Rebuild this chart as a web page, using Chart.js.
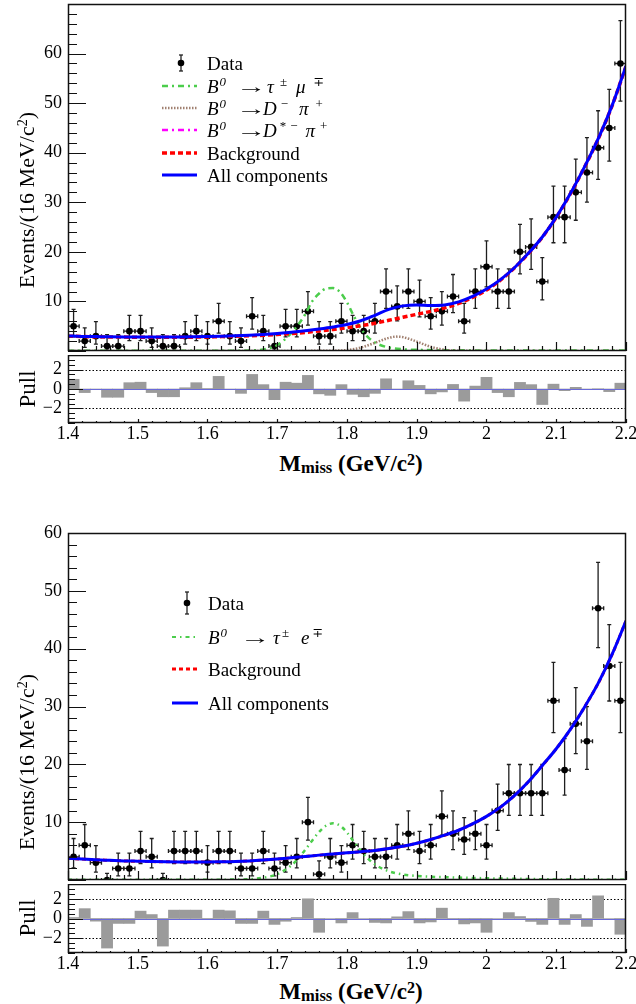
<!DOCTYPE html>
<html>
<head>
<meta charset="utf-8">
<script src="https://cdn.jsdelivr.net/npm/chart.js@4.4.1/dist/chart.umd.min.js"></script>
<style>
  html, body { margin:0; padding:0; background:#fff; }
  body { width:636px; height:1004px; position:relative; overflow:hidden;
         font-family:"Liberation Serif","DejaVu Serif",serif; color:#000; }
  canvas { position:absolute; left:0; }
  .t { position:absolute; white-space:nowrap; line-height:1; }
  .rot { transform:translate(-50%,-50%) rotate(-90deg); }
  .ctr { transform:translate(-50%,-50%); }
  .lg { position:absolute; left:207px; font-size:19px; white-space:nowrap; line-height:1; transform:translateY(-50%); }
  .lg i { font-style:italic; }
  .s { display:inline-block; }
  .ar { display:inline-block; transform:scaleX(1.6); transform-origin:left center; margin-right:7px; }
  .sp { display:inline-block; font-size:0.68em; position:relative; top:-0.55em; }
  svg.sym { position:absolute; overflow:visible; }
</style>
</head>
<body>
<canvas id="c1" width="636" height="355" style="top:0px;width:636px;height:355px"></canvas>
<canvas id="c2" width="636" height="90" style="top:355px;width:636px;height:90px"></canvas>
<canvas id="c3" width="636" height="379" style="top:505px;width:636px;height:379px"></canvas>
<canvas id="c4" width="636" height="92" style="top:884px;width:636px;height:92px"></canvas>

<!-- axis titles -->
<div class="t rot" style="left:27px;top:200px;font-size:22px;">Events/(16 MeV/c<span style="font-size:0.65em;position:relative;top:-0.5em">2</span>)</div>
<div class="t rot" style="left:27px;top:389px;font-size:23px;">Pull</div>
<div class="t ctr" style="left:351px;top:463px;font-size:23px;font-weight:bold;">M<span style="font-size:0.72em;position:relative;top:0.15em">miss</span> (GeV/c<span style="font-size:0.7em;position:relative;top:-0.4em">2</span>)</div>

<div class="t rot" style="left:27px;top:762px;font-size:22px;">Events/(16 MeV/c<span style="font-size:0.65em;position:relative;top:-0.5em">2</span>)</div>
<div class="t rot" style="left:27px;top:918px;font-size:23px;">Pull</div>
<div class="t ctr" style="left:351px;top:991px;font-size:23px;font-weight:bold;">M<span style="font-size:0.72em;position:relative;top:0.15em">miss</span> (GeV/c<span style="font-size:0.7em;position:relative;top:-0.4em">2</span>)</div>

<!-- top legend -->
<svg class="sym" style="left:0;top:0" width="636" height="200">
  <line x1="181" y1="55" x2="181" y2="71" stroke="#222" stroke-width="1.3"/>
  <line x1="179" y1="55" x2="183" y2="55" stroke="#222" stroke-width="1.3"/>
  <line x1="179" y1="71" x2="183" y2="71" stroke="#222" stroke-width="1.3"/>
  <circle cx="181" cy="63" r="3.3" fill="#000"/>
  <line x1="162" y1="86" x2="197" y2="86" stroke="#4ccd4c" stroke-width="2.5" stroke-dasharray="6 4 2 4"/>
  <line x1="162" y1="108" x2="197" y2="108" stroke="#a08070" stroke-width="2.5" stroke-dasharray="1.5 1.5"/>
  <line x1="162" y1="130" x2="197" y2="130" stroke="#ff00ff" stroke-width="2.5" stroke-dasharray="6 4 2 4"/>
  <line x1="162" y1="153" x2="197" y2="153" stroke="#ff0000" stroke-width="3.5" stroke-dasharray="5 3"/>
  <line x1="162" y1="175" x2="197" y2="175" stroke="#0000ff" stroke-width="3"/>
</svg>
<div class="lg" style="top:63px">Data</div>
<div class="lg" style="top:86px"><i class="s">B</i><i class="sp" style="margin-left:1px">0</i><span class="ar" style="margin-left:10px">→</span><i class="s" style="margin-left:5px">τ</i><span class="sp" style="margin-left:6px">±</span><i class="s" style="margin-left:9px">μ</i><span class="sp" style="margin-left:8px">∓</span></div>
<div class="lg" style="top:108px"><i class="s">B</i><i class="sp" style="margin-left:1px">0</i><span class="ar" style="margin-left:10px">→</span><i class="s" style="margin-left:1px">D</i><span class="sp" style="margin-left:4px">−</span><i class="s" style="margin-left:11px">π</i><span class="sp" style="margin-left:7px">+</span></div>
<div class="lg" style="top:130px"><i class="s">B</i><i class="sp" style="margin-left:1px">0</i><span class="ar" style="margin-left:10px">→</span><i class="s" style="margin-left:1px">D</i><span class="sp" style="margin-left:3px">*</span><span class="sp" style="margin-left:4px">−</span><i class="s" style="margin-left:8px">π</i><span class="sp" style="margin-left:5px">+</span></div>
<div class="lg" style="top:153px">Background</div>
<div class="lg" style="top:175px">All components</div>

<!-- bottom legend -->
<svg class="sym" style="left:0;top:0" width="636" height="720">
  <line x1="187" y1="592" x2="187" y2="614" stroke="#222" stroke-width="1.3"/>
  <line x1="185" y1="592" x2="189" y2="592" stroke="#222" stroke-width="1.3"/>
  <line x1="185" y1="614" x2="189" y2="614" stroke="#222" stroke-width="1.3"/>
  <circle cx="187" cy="603" r="3.3" fill="#000"/>
  <line x1="172" y1="637" x2="198" y2="637" stroke="#4ccd4c" stroke-width="2" stroke-dasharray="4 4 1.5 4"/>
  <line x1="172" y1="669" x2="198" y2="669" stroke="#ff0000" stroke-width="3" stroke-dasharray="4 3"/>
  <line x1="172" y1="703" x2="198" y2="703" stroke="#0000ff" stroke-width="3"/>
</svg>
<div class="lg" style="top:603px;left:208px">Data</div>
<div class="lg" style="top:637px;left:208px"><i class="s">B</i><i class="sp" style="margin-left:1px">0</i><span class="ar" style="margin-left:13px">→</span><i class="s" style="margin-left:7px">τ</i><span class="sp" style="margin-left:2px">±</span><i class="s" style="margin-left:12px">e</i><span class="sp" style="margin-left:3px">∓</span></div>
<div class="lg" style="top:669px;left:208px">Background</div>
<div class="lg" style="top:703px;left:208px">All components</div>

<script>
// ---------------- DATA ----------------
const binCenters = [1.408,1.424,1.440,1.456,1.472,1.488,1.504,1.520,1.536,1.552,
  1.568,1.584,1.600,1.616,1.632,1.648,1.664,1.680,1.696,1.712,
  1.728,1.744,1.760,1.776,1.792,1.808,1.824,1.840,1.856,1.872,
  1.888,1.904,1.920,1.936,1.952,1.968,1.984,2.000,2.016,2.032,
  2.048,2.064,2.080,2.096,2.112,2.128,2.144,2.160,2.176,2.192];
const binHalfWidth = 0.008;

// B0 -> tau mu channel (top)
const muCounts = [5,2,3,1,1,4,4,2,1,1, 3,4,3,6,3,2,7,4,1,5, 5,8,3,3,6,4,4,6,12,9,
  12,10,7,8,11,6,12,17,12,12, 20,21,14,27,27,32,36,41,45,58];
const muPulls = [1.0,-0.37,0.0,-0.85,-0.85,0.65,0.7,-0.37,-0.8,-0.8,
  0.13,0.65,0.05,1.3,-0.05,-0.45,1.5,0.45,-1.1,0.7,
  0.6,1.4,-0.5,-0.65,0.45,-0.55,-0.8,-0.45,1.05,0.0,
  0.85,0.37,-0.5,-0.3,0.47,-1.25,0.3,1.2,-0.37,-0.8,
  0.68,0.45,-1.6,0.5,-0.17,0.17,-0.05,0.03,-0.27,0.6];

const curveMass = [1.40,1.42,1.44,1.46,1.48,1.50,1.52,1.54,1.56,1.58,
  1.60,1.62,1.64,1.66,1.68,1.70,1.72,1.74,1.76,1.78,
  1.80,1.82,1.84,1.86,1.88,1.90,1.92,1.94,1.96,1.98,
  2.00,2.02,2.04,2.06,2.08,2.10,2.12,2.14,2.16,2.18,2.20];
const muTotal = [3.05,2.95,2.9,2.85,2.82,2.8,2.8,2.8,2.82,2.85,
  2.9,2.97,3.06,3.18,3.35,3.55,3.8,4.1,4.45,4.85,
  5.35,6.1,7.2,8.4,9.1,9.3,9.2,9.3,9.9,11.0,
  12.5,14.4,16.8,19.7,23.0,27.0,31.7,37.0,42.8,49.5,57.5];
const muBackground = [3.0,2.92,2.87,2.83,2.8,2.78,2.77,2.77,2.78,2.8,
  2.84,2.9,2.97,3.06,3.18,3.33,3.5,3.75,4.05,4.35,
  4.7,5.1,5.6,6.2,6.8,7.4,8.0,8.7,9.6,10.8,
  12.3,14.3,16.75,19.65,22.95,26.95,31.65,36.95,42.75,49.45,57.45];
const muSignalMass = [1.40,1.50,1.60,1.64,1.66,1.68,1.70,1.72,1.73,1.74,
  1.75,1.76,1.77,1.78,1.79,1.80,1.81,1.82,1.83,1.84,
  1.86,1.88,1.90,1.95,2.00,2.10,2.20];
const muSignal = [0.05,0.05,0.05,0.06,0.1,0.3,1.2,3.6,5.3,7.4,
  10.0,11.6,12.6,12.7,11.9,9.8,7.0,4.5,2.8,1.7,
  0.7,0.35,0.25,0.15,0.12,0.1,0.08];
const dPiMass = [1.40,1.70,1.76,1.78,1.80,1.82,1.84,1.86,1.87,1.88,1.90,1.92,1.94,1.96,1.98,2.05,2.20];
const dPiCurve = [0.02,0.02,0.03,0.06,0.2,0.7,1.65,2.65,2.9,2.8,1.9,0.85,0.25,0.06,0.03,0.02,0.02];

// B0 -> tau e channel (bottom)
const eCounts = [4,6,3,0,2,2,5,4,0,5, 5,5,3,5,5,2,2,5,2,3, 4,10,1,4,3,6,5,4,4,6,
  8,5,6,11,8,7,8,6,12,15, 15,15,15,31,19,27,24,47,37,31];
const ePulls = [0.1,1.0,-0.27,-3.0,-0.5,-0.5,0.75,0.4,-2.8,0.85,
  0.85,0.85,-0.1,0.85,0.78,-0.5,-0.5,0.75,-0.6,-0.28,
  0.1,2.0,-1.4,0.0,-0.45,0.6,0.0,-0.4,-0.45,0.17,
  0.7,-0.45,-0.35,1.05,-0.1,-0.55,-0.45,-1.4,0.0,0.6,
  0.2,-0.3,-0.6,2.05,-0.6,0.4,-0.8,2.3,0.0,-1.6];
const eTotal = [3.75,3.62,3.5,3.4,3.3,3.25,3.2,3.16,3.13,3.12,
  3.12,3.15,3.2,3.3,3.45,3.63,3.85,4.07,4.3,4.5,
  4.7,4.9,5.12,5.45,5.85,6.35,7.0,7.75,8.6,9.7,
  11.0,12.6,14.6,17.0,19.8,22.7,26.0,29.8,34.0,39.0,44.8];
const eBackground = [3.74,3.61,3.49,3.39,3.29,3.24,3.19,3.15,3.12,3.11,
  3.11,3.14,3.19,3.29,3.44,3.62,3.84,4.06,4.29,4.49,
  4.69,4.89,5.11,5.44,5.84,6.34,6.99,7.74,8.59,9.69,
  10.99,12.59,14.59,16.99,19.79,22.69,25.99,29.79,33.99,38.99,44.79];
const eSignalMass = [1.40,1.50,1.60,1.64,1.66,1.68,1.70,1.72,1.73,1.74,
  1.75,1.76,1.77,1.78,1.79,1.80,1.81,1.82,1.83,1.84,
  1.86,1.88,1.90,1.95,2.00,2.05,2.10,2.20];
const eSignal = [0.05,0.05,0.05,0.08,0.15,0.4,1.0,2.5,3.7,5.2,
  6.8,8.3,9.4,9.8,9.4,8.2,6.6,5.0,3.7,2.7,
  1.5,0.95,0.7,0.45,0.3,0.2,0.1,0.05];

// tick labels
const xTickValues = [1.4,1.5,1.6,1.7,1.8,1.9,2.0,2.1,2.2];
const xTickLabels = ['1.4','1.5','1.6','1.7','1.8','1.9','2','2.1','2.2'];
const yTickValues = [10,20,30,40,50,60];
const yTickLabels = ['10','20','30','40','50','60'];
const pullTickValues = [-2,0,2];
const pullTickLabels = ['\u22122','0','2'];

// ---------------- HELPERS ----------------
const FONT = '"Liberation Serif","DejaVu Serif",serif';
const pts = (xs, ys) => xs.map((x, i) => ({x, y: ys[i]}));
function poissonInterval(n) {   // approximate 68% Poisson interval
  if (n === 0) return [0, 1.15];
  const hi = n + Math.sqrt(n + 0.75) + 1;
  const lo = n * Math.pow(1 - 1 / (9 * n) - 1 / (3 * Math.sqrt(n)), 3);
  return [lo, hi];
}
function noPad(s) { s.paddingTop = 0; s.paddingBottom = 0; s.paddingLeft = 0; s.paddingRight = 0; }

const errorBarPlugin = {
  id: 'errbars',
  beforeDatasetsDraw(chart) {
    const {ctx, chartArea: a} = chart;
    const x = chart.scales.x, y = chart.scales.y;
    ctx.save();
    ctx.beginPath(); ctx.rect(a.left, a.top, a.right - a.left, a.bottom - a.top); ctx.clip();
    chart.data.datasets.forEach(ds => {
      if (!ds.errLo) return;
      ctx.strokeStyle = '#1e1e1e'; ctx.lineWidth = 1.3;
      ds.data.forEach((p, i) => {
        const px = x.getPixelForValue(p.x), py = y.getPixelForValue(p.y);
        const yl = y.getPixelForValue(ds.errLo[i]), yh = y.getPixelForValue(ds.errHi[i]);
        const xl = x.getPixelForValue(p.x - ds.halfBin), xr = x.getPixelForValue(p.x + ds.halfBin);
        ctx.beginPath();
        ctx.moveTo(px, yl); ctx.lineTo(px, yh);
        ctx.moveTo(px - 2, yl); ctx.lineTo(px + 2, yl);
        ctx.moveTo(px - 2, yh); ctx.lineTo(px + 2, yh);
        ctx.moveTo(xl, py); ctx.lineTo(xr, py);
        ctx.moveTo(xl, py - 2); ctx.lineTo(xl, py + 2);
        ctx.moveTo(xr, py - 2); ctx.lineTo(xr, py + 2);
        ctx.stroke();
      });
    });
    ctx.restore();
  }
};

const decorPlugin = {
  id: 'decor',
  beforeDatasetsDraw(chart, args, o) {
    if (!o.pull) return;
    const {ctx, chartArea: a} = chart;
    const y = chart.scales.y;
    ctx.save();
    ctx.strokeStyle = '#000'; ctx.lineWidth = 1; ctx.setLineDash([1.5, 2]);
    [-2, 2].forEach(v => {
      const py = Math.round(y.getPixelForValue(v)) + 0.5;
      ctx.beginPath(); ctx.moveTo(a.left, py); ctx.lineTo(a.right, py); ctx.stroke();
    });
    ctx.restore();
  },
  afterDraw(chart, args, o) {
    const {ctx, chartArea: a} = chart;
    const x = chart.scales.x, y = chart.scales.y;
    ctx.save();
    if (o.pull) {
      ctx.strokeStyle = '#6a6ad8'; ctx.lineWidth = 1;
      const p0 = Math.round(y.getPixelForValue(0)) + 0.5;
      ctx.beginPath(); ctx.moveTo(a.left, p0); ctx.lineTo(a.right, p0); ctx.stroke();
    }
    ctx.strokeStyle = '#111'; ctx.lineWidth = 1.2;
    ctx.beginPath();
    // x ticks (inward from bottom)
    for (let k = 0; k <= 40; k++) {
      const v = 1.4 + k * 0.02;
      const px = Math.round(x.getPixelForValue(v)) + 0.5;
      const len = (k % 5 === 0) ? o.xMaj : o.xMin;
      ctx.moveTo(px, a.bottom); ctx.lineTo(px, a.bottom - len);
    }
    // y ticks (inward from left)
    const steps = Math.round((o.yMax - o.yMin) / o.yMinor);
    for (let k = 0; k <= steps; k++) {
      const v = o.yMin + k * o.yMinor;
      const py = Math.round(y.getPixelForValue(v)) + 0.5;
      const isMaj = Math.abs(v / o.yMajor - Math.round(v / o.yMajor)) < 1e-6 && (!o.pull || Math.abs(v) <= 2.01);
      const len = isMaj ? o.yMajLen : o.yMinLen;
      ctx.moveTo(a.left, py); ctx.lineTo(a.left + len, py);
    }
    ctx.stroke();
    // frame
    ctx.lineWidth = 1.5; ctx.strokeStyle = '#111';
    ctx.strokeRect(a.left + 0.5, a.top + 0.5, a.right - a.left - 1, a.bottom - a.top - 1);
    ctx.restore();
  }
};

function scalesFor(opts) {
  return {
    x: {
      type: 'linear', min: 1.4, max: 2.2, offset: false,
      grid: {display: false, drawTicks: false}, border: {display: false},
      ticks: {
        display: opts.showX, color: '#000', padding: 0, maxRotation: 0, autoSkip: false,
        font: {family: FONT, size: 18},
        callback: (v, i) => xTickLabels[i]
      },
      afterBuildTicks: s => { s.ticks = xTickValues.map(v => ({value: v})); },
      afterFit: s => { s.height = opts.xH; noPad(s); }
    },
    y: {
      type: 'linear', min: opts.yMin, max: opts.yMax,
      grid: {display: false, drawTicks: false}, border: {display: false},
      ticks: {
        color: '#000', padding: 6, font: {family: FONT, size: 18},
        callback: (v, i) => opts.yLabels[i]
      },
      afterBuildTicks: s => { s.ticks = opts.yTicks.map(v => ({value: v})); },
      afterFit: s => { s.width = 68; noPad(s); }
    }
  };
}

function mainChart(id, padTop, yMax, datasets) {
  return new Chart(document.getElementById(id), {
    type: 'line',
    data: {datasets},
    options: {
      responsive: false, animation: false, events: [],
      layout: {padding: {left: 0, right: 10, top: padTop, bottom: 0}},
      plugins: {legend: {display: false}, tooltip: {enabled: false},
        decor: {pull: false, xMaj: 9, xMin: 5, yMin: 0, yMax: yMax, yMinor: 2, yMajor: 10, yMajLen: 18, yMinLen: 9}},
      scales: scalesFor({showX: false, xH: 0, yMin: 0, yMax: yMax, yTicks: yTickValues, yLabels: yTickLabels})
    },
    plugins: [errorBarPlugin, decorPlugin]
  });
}

function pullChart(id, xH, pulls) {
  return new Chart(document.getElementById(id), {
    type: 'bar',
    data: {datasets: [{
      data: pts(binCenters, pulls), backgroundColor: '#9b9b9b', borderWidth: 0,
      barPercentage: 1, categoryPercentage: 1
    }]},
    options: {
      responsive: false, animation: false, events: [],
      layout: {padding: {left: 0, right: 10, top: 0, bottom: 0}},
      plugins: {legend: {display: false}, tooltip: {enabled: false},
        decor: {pull: true, xMaj: 4, xMin: 2, yMin: -3.5, yMax: 3.5, yMinor: 0.5, yMajor: 2, yMajLen: 15, yMinLen: 7}},
      scales: scalesFor({showX: true, xH: xH, yMin: -3.5, yMax: 3.5, yTicks: pullTickValues, yLabels: pullTickLabels})
    },
    plugins: [decorPlugin]
  });
}

function dataSet(counts) {
  const iv = counts.map(poissonInterval);
  return {
    data: pts(binCenters, counts), showLine: false,
    pointRadius: 3.3, pointBackgroundColor: '#000', pointBorderWidth: 0,
    errLo: iv.map(v => v[0]), errHi: iv.map(v => v[1]), halfBin: binHalfWidth,
    order: 9, clip: 0
  };
}
function curve(xs, ys, color, width, dash, order) {
  return {
    data: pts(xs, ys), borderColor: color, borderWidth: width, borderDash: dash,
    pointRadius: 0, fill: false, cubicInterpolationMode: 'monotone', order: order, clip: 0
  };
}

mainChart('c1', 3, 70, [
  dataSet(muCounts),
  curve(muSignalMass, muSignal, '#4ccd4c', 2.5, [6, 4, 2, 4], 5),
  curve(dPiMass, dPiCurve, '#a08070', 2.5, [1.5, 1.5], 4),
  curve(curveMass, muBackground, '#ff0000', 3.5, [5, 3], 2),
  curve(curveMass, muTotal, '#0000ff', 3, [], 0)
]);
pullChart('c2', 22, muPulls);

mainChart('c3', 28, 60, [
  dataSet(eCounts),
  curve(eSignalMass, eSignal, '#4ccd4c', 2.5, [4, 4, 1.5, 4], 5),
  curve(curveMass, eBackground, '#ff0000', 3, [4, 3], 2),
  curve(curveMass, eTotal, '#0000ff', 3, [], 0)
]);
pullChart('c4', 23, ePulls);
</script>
</body>
</html>
